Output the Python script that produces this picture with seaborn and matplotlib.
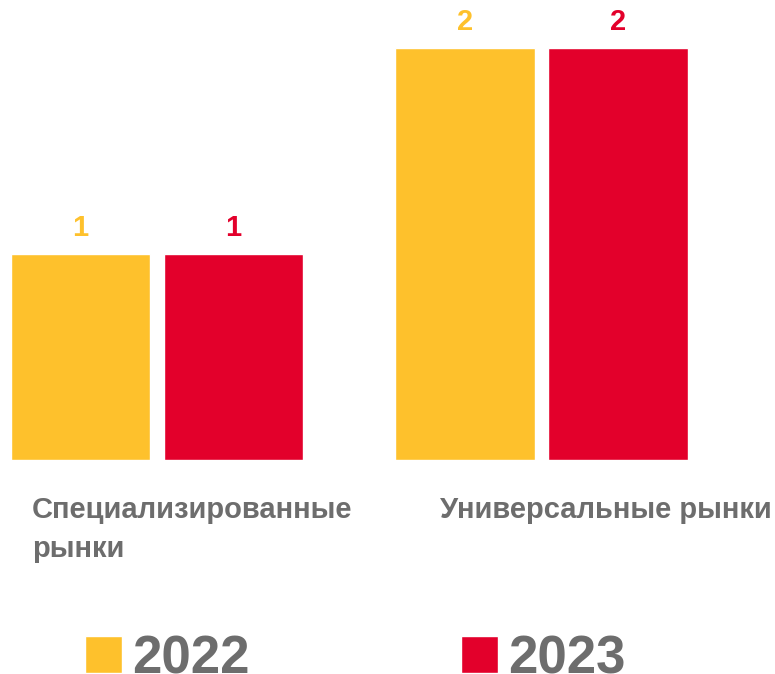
import matplotlib
matplotlib.use("Agg")
import matplotlib.pyplot as plt
import matplotlib.transforms as mtransforms
import pandas as pd
import seaborn as sns

categories = ["Специализированные\nрынки", "Универсальные рынки"]
years = ["2022", "2023"]
values_2022 = [1, 2]
values_2023 = [1, 2]

colors = {"2022": "#FEC12C", "2023": "#E3002B"}
gray = "#6D6D6D"


def main():
    df = pd.DataFrame({
        "category": categories * 2,
        "year": [years[0]] * 2 + [years[1]] * 2,
        "value": values_2022 + values_2023,
    })

    sns.set_theme(style="white")
    plt.rcParams["font.family"] = ["Liberation Sans", "DejaVu Sans"]

    fig = plt.figure(figsize=(7.75, 6.74), dpi=100)
    ax = fig.add_axes([0, 214 / 674, 1, 460 / 674])

    sns.barplot(data=df, x="category", y="value", hue="year", palette=colors,
                width=0.796, gap=0.09, saturation=1, ax=ax, legend=True)

    ax.set_xlim(-0.408, 1.607)
    ax.set_ylim(0, 2.233)
    ax.set_xlabel("")
    ax.set_ylabel("")
    ax.set_yticks([])
    ax.set_xticks([0, 1])
    ax.set_xticklabels(["", ""])
    ax.tick_params(axis="x", length=0)
    for s in ax.spines.values():
        s.set_visible(False)

    # value labels above the bars
    for cont, yr in zip(ax.containers, years):
        ax.bar_label(cont, labels=[str(int(b.get_height())) for b in cont],
                     padding=8.5, color=colors[yr], fontsize=21, fontweight="bold")

    # category labels, left aligned under each group
    label_x = [-0.325, 0.736]
    trans = mtransforms.blended_transform_factory(ax.transData, ax.transAxes)
    for x, lab in zip(label_x, categories):
        ax.text(x, -0.078, lab, transform=trans, ha="left", va="top",
                fontsize=21, fontweight="bold", color=gray, linespacing=1.5)

    leg = ax.legend(loc="center left", bbox_to_anchor=(85 / 775, -199 / 460),
                    ncol=2, frameon=False, fontsize=38, handlelength=0.7,
                    handleheight=0.7, handletextpad=0.2, columnspacing=4.0,
                    borderaxespad=0, borderpad=0)
    for t in leg.get_texts():
        t.set_color(gray)
        t.set_fontweight("bold")

    fig.savefig("out.png", dpi=100)
    plt.close(fig)


if __name__ == "__main__":
    main()
